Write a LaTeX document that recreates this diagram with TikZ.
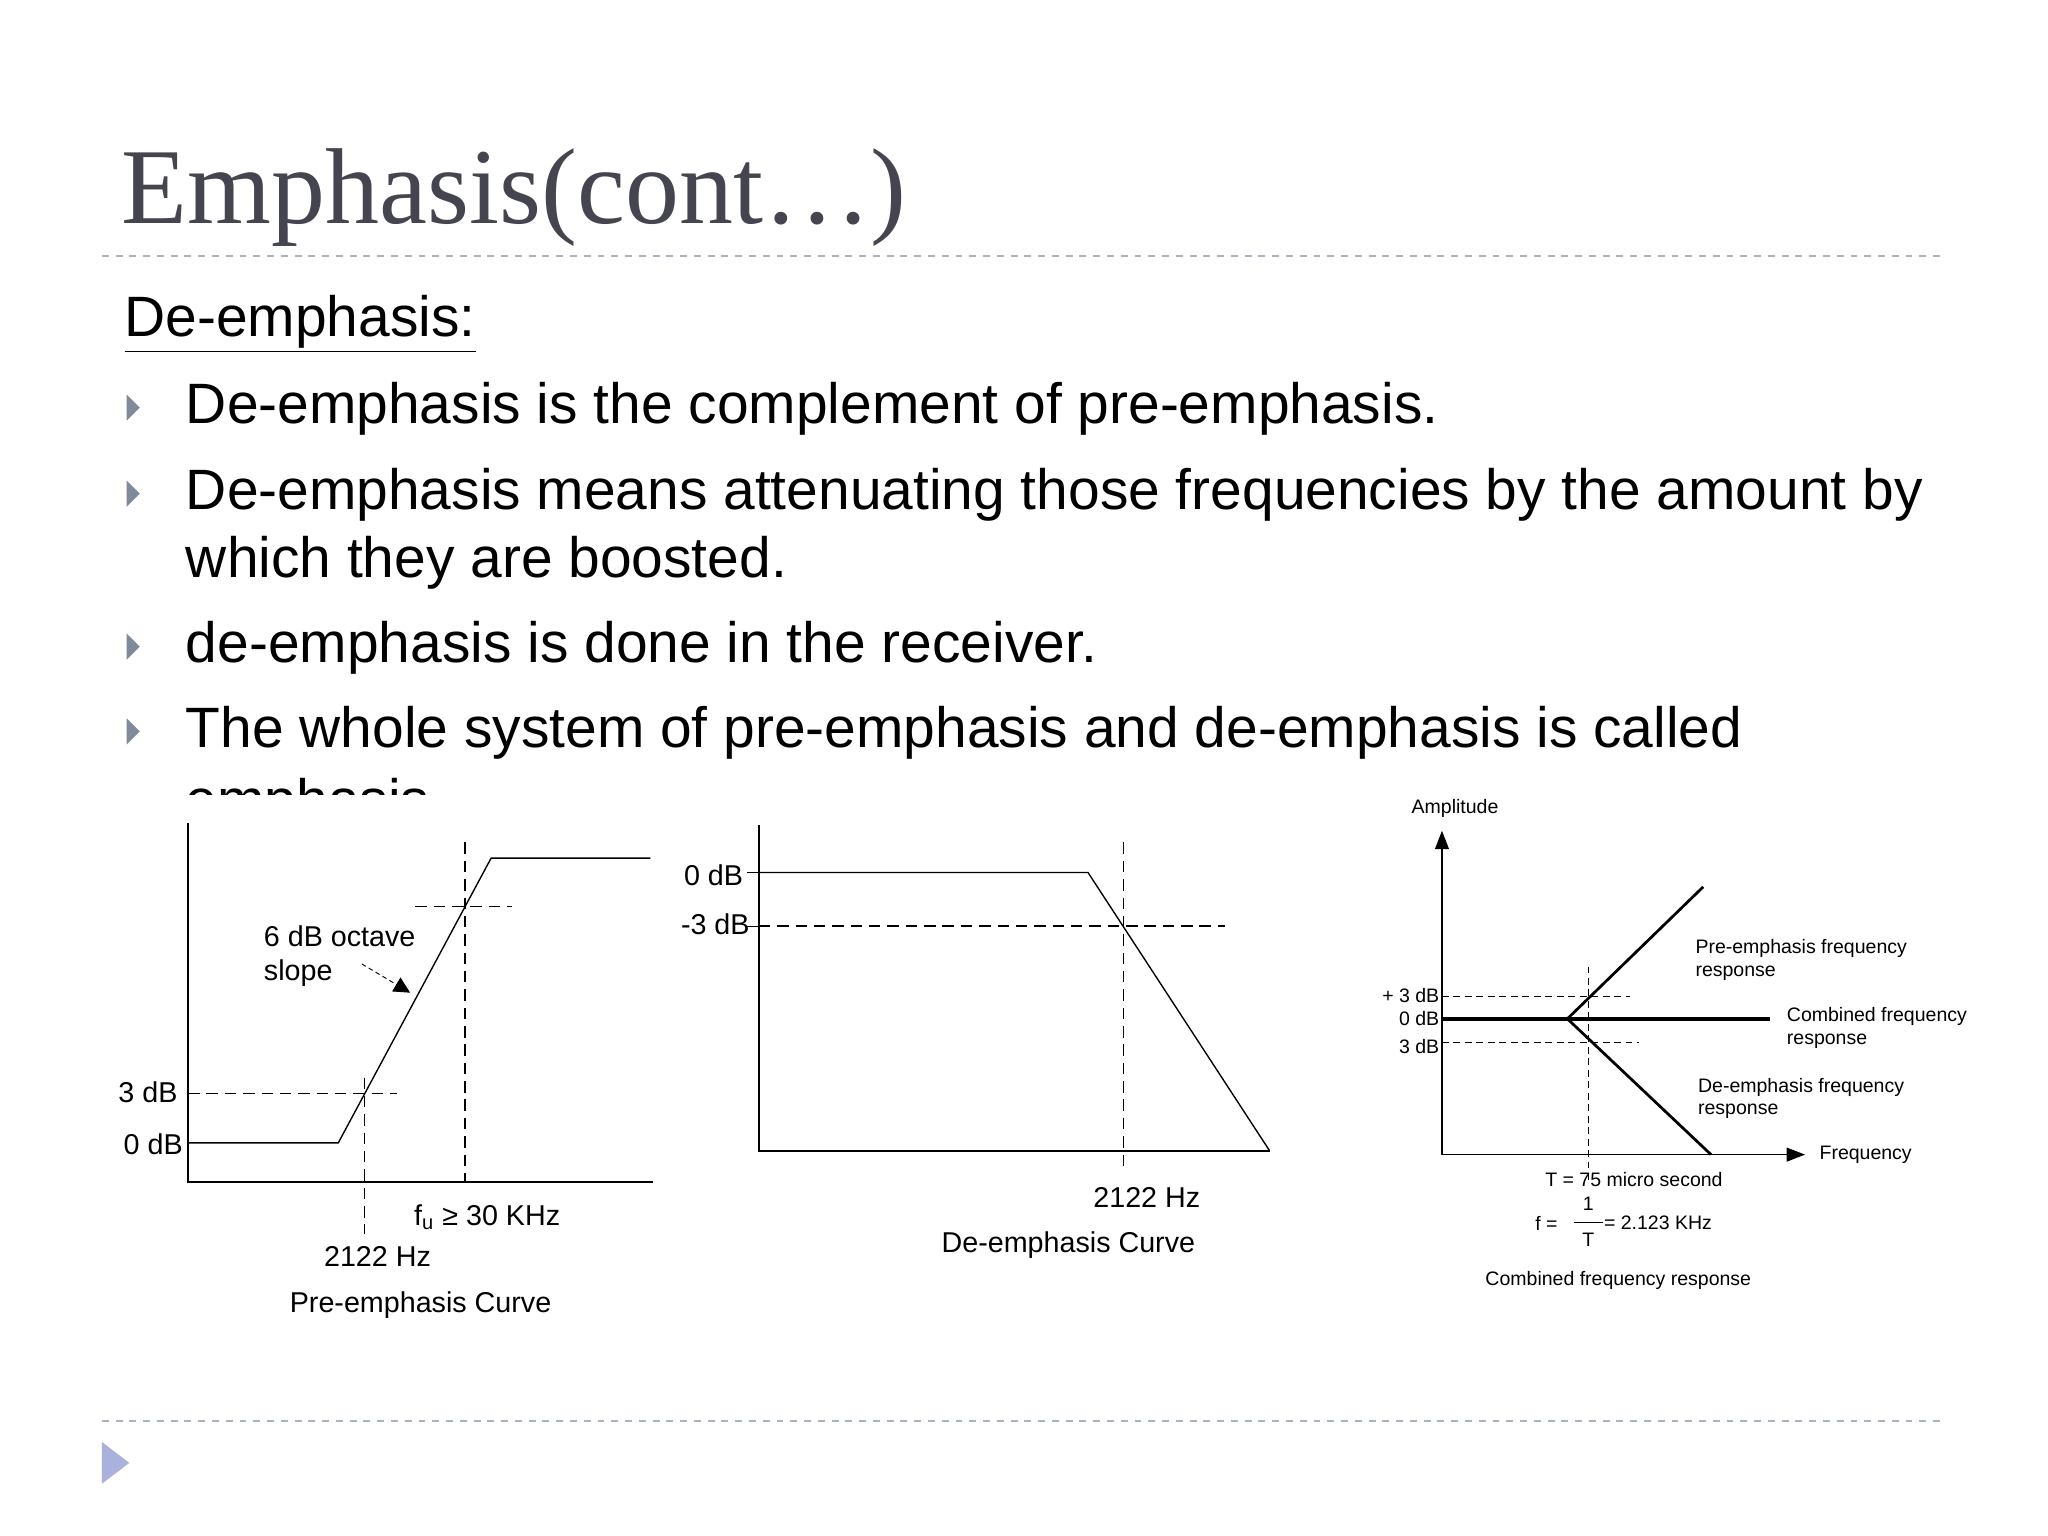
\documentclass[tikz,border=0pt]{standalone}
\usepackage{fontspec}
\setmainfont{Liberation Sans}
\newfontfamily\titlefont{Liberation Serif}
\usetikzlibrary{arrows.meta}
\definecolor{tgrey}{HTML}{45454F}
\definecolor{dline}{HTML}{A9B4C2}
\definecolor{bul}{HTML}{7F8A9A}
\begin{document}
\begin{tikzpicture}[x=0.02cm,y=-0.02cm,
  body/.style={anchor=west,inner sep=0,font=\fontsize{24.8}{29}\selectfont},
  lab/.style={inner sep=1pt,font=\fontsize{12.5}{14.5}\selectfont},
  sm/.style={inner sep=1pt,font=\fontsize{8.5}{10}\selectfont},
  dsh/.style={dashed,dash pattern=on 5pt off 3pt,line width=0.5pt},
  crv/.style={line width=0.6pt},
  bullet/.style={fill=bul}]
\useasboundingbox (0,0) rectangle (1568,1176);
\fill[white] (0,0) rectangle (1568,1176);
% title
\node[anchor=west,inner sep=0,text=tgrey,font=\titlefont\fontsize{47}{51}\selectfont] (title) at (93,151) {Emphasis(cont…)};
\draw[dline,dashed,line width=0.8pt] (78,196) -- (1490,196);
\draw[dline,dashed,line width=0.8pt] (78,1088) -- (1490,1088);
\fill[dline!80!blue!70] (78,1104) -- (99,1120) -- (78,1136) -- cycle;
% text
\node[body] (h) at (95,248) {\underline{De-emphasis:}};
\foreach \y in {312,378,495,560} \fill[bullet] (97,\y-10) -- (107,\y) -- (97,\y+10) -- cycle;
\node[body] (b1) at (142,313) {De-emphasis is the complement of pre-emphasis.};
\node[body] (b2) at (142,379) {De-emphasis means attenuating those frequencies by the amount by};
\node[body] (b2b) at (142,431) {which they are boosted.};
\node[body] (b3) at (142,496) {de-emphasis is done in the receiver.};
\node[body] (b4) at (142,561) {The whole system of pre-emphasis and de-emphasis is called};
\node[body] (b5) at (142,616) {emphasis};
\fill[white] (60,609) rectangle (1040,640);
% chart 1
\draw[line width=0.7pt] (144,630) -- (144,905) -- (500,905);
\draw[crv] (144,875) -- (259,875) -- (376,657) -- (498,657);
\draw[dsh] (144,837) -- (304,837);
\draw[dsh] (279,825) -- (279,945);
\draw[dsh] (318,694) -- (392,694);
\draw[dsh] (356,645) -- (356,905);
\node[lab,anchor=east] (l3) at (138,836) {3 dB};
\node[lab,anchor=east] (l0) at (142,876) {0 dB};
\node[lab,anchor=west,align=left] (slope) at (200,732) {6 dB octave\\slope};
\coordinate (sa) at (277,738);
\coordinate (sb) at (314,760);
\draw[dashed,dash pattern=on 2pt off 1.5pt,-{Triangle[length=7pt,width=7pt]}] (sa) -- (sb);
\node[lab] (fu) at (373,932) {f$_{\mathrm u}$ ≥ 30 KHz};
\node[lab] (f2) at (289,962) {2122 Hz};
\node[lab] (c1) at (322,999) {Pre-emphasis Curve};
% chart 2
\draw[line width=0.7pt] (581,632) -- (581,881) -- (972,881);
\draw[crv] (581,668) -- (833,668) -- (972,881);
\draw (572,668) -- (581,668);
\draw (572,709) -- (581,709);
\draw[dsh] (581,709) -- (938,709);
\draw[dsh] (860,645) -- (860,895);
\node[lab,anchor=east] (m0) at (571,670) {0 dB};
\node[lab,anchor=east] (m3) at (576,708) {-3 dB};
\node[lab] (h2) at (878,917) {2122 Hz};
\node[lab] (c2) at (818,953) {De-emphasis Curve};
% chart 3
\draw[line width=0.7pt,-{Triangle[length=8pt,width=6pt]}] (1104,884) -- (1104,636);
\draw[line width=0.7pt,-{Triangle[length=8pt,width=6pt]}] (1104,884) -- (1382,884);
\draw[line width=1.6pt] (1104,780) -- (1355,780);
\draw[line width=1.2pt] (1200,780) -- (1304,679);
\draw[line width=1.2pt] (1200,780) -- (1310,884);
\draw[dsh,dash pattern=on 3pt off 2pt] (1104,763) -- (1248,763);
\draw[dsh,dash pattern=on 3pt off 2pt] (1104,798) -- (1255,798);
\draw[dsh,dash pattern=on 3pt off 2pt] (1216,740) -- (1216,905);
\node[sm] (amp) at (1114,619) {Amplitude};
\node[sm,anchor=east] (p3) at (1104,762) {+ 3 dB};
\node[sm,anchor=east] (z0) at (1104,780) {0 dB};
\node[sm,anchor=east] (n3) at (1104,801) {3 dB};
\node[sm,anchor=west,align=left] (pr) at (1296,735) {Pre-emphasis frequency\\response};
\node[sm,anchor=west,align=left] (cr) at (1366,787) {Combined frequency\\response};
\node[sm,anchor=west,align=left] (dr) at (1298,841) {De-emphasis frequency\\response};
\node[sm,anchor=west] (fq) at (1391,884) {Frequency};
\node[sm] (T) at (1251,903) {T = 75 micro second};
\node[sm] (feq) at (1184,937) {f =};
\node[sm] (one) at (1216,922) {1};
\draw (1205,936) -- (1227,936);
\node[sm] (tt) at (1216,949) {T};
\node[sm,anchor=west] (kh) at (1226,936) {= 2.123 KHz};
\node[sm] (c3) at (1239,980) {Combined frequency response};
\end{tikzpicture}
\end{document}
